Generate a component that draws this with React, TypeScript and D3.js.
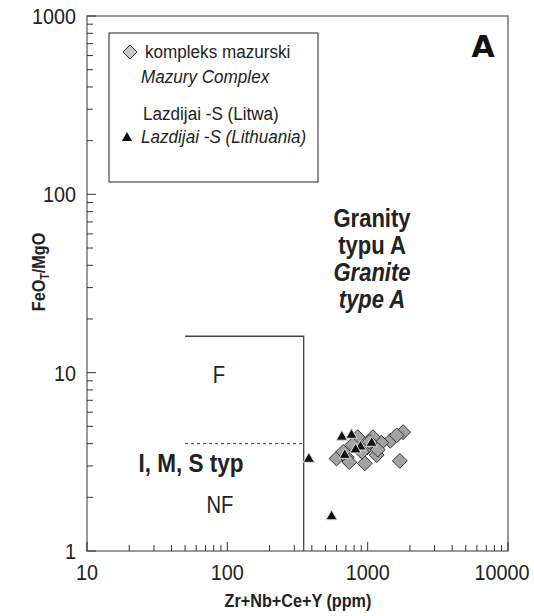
import React, { useEffect, useRef } from 'react';
import * as d3 from 'd3';

// Mazury Complex samples: [Zr+Nb+Ce+Y ppm, FeOt/MgO]
const mazuryX = [1790, 1694, 1450, 1250, 1160, 955, 600, 710, 740, 1090, 850, 780, 990, 910, 1030, 1610, 670, 1180];
const mazuryY = [4.64, 3.2, 4.15, 4.05, 3.45, 3.1, 3.3, 3.35, 3.15, 4.35, 4.35, 3.95, 3.8, 3.6, 4.1, 4.45, 3.6, 3.7];

// Lazdijai -S samples
const lazdijaiX = [381, 553, 655, 767, 889, 1067, 687, 820];
const lazdijaiY = [3.28, 1.56, 4.36, 4.47, 3.84, 4.03, 3.45, 3.7];

const xTicks = [10, 100, 1000, 10000];
const yTicks = [1, 10, 100, 1000];

const FONT = "'Liberation Sans', Arial, sans-serif";

type Sel = d3.Selection<SVGSVGElement, unknown, null, undefined>;

// condensed text: draw at (x,y) squeezed horizontally
function ctext(svg: Sel, x: number, y: number, t: string, size: number, opts: any = {}) {
    const sx = opts.sx ?? 0.9;
    return svg.append('text')
        .attr('transform', `translate(${x},${y}) scale(${sx},1)`)
        .attr('text-anchor', opts.anchor ?? 'start')
        .attr('font-size', size)
        .attr('font-weight', opts.bold ? 'bold' : 'normal')
        .attr('font-style', opts.italic ? 'italic' : 'normal')
        .attr('fill', '#222')
        .text(t);
}

const App = () => {
    const ref = useRef<SVGSVGElement | null>(null);
    const width = 534;
    const height = 616;

    useEffect(() => {
        if (!ref.current) return;
        const svg = d3.select(ref.current);
        svg.selectAll('*').remove();
        svg.style('font-family', FONT);

        const x = d3.scaleLog().domain([10, 10000]).range([87, 508]);
        const y = d3.scaleLog().domain([1, 1000]).range([551, 16]);

        // frame
        svg.append('rect')
            .attr('x', 87).attr('y', 16)
            .attr('width', 508 - 87).attr('height', 551 - 16)
            .attr('fill', 'none').attr('stroke', '#808080').attr('stroke-width', 1.6);

        // ticks, pointing inward
        const xMinor: number[] = [];
        for (let d = 10; d < 10000; d *= 10) for (let k = 1; k < 10; k++) xMinor.push(d * k);
        xMinor.push(10000);
        svg.append('g').selectAll('line').data(xMinor).join('line')
            .attr('x1', (d) => x(d)).attr('x2', (d) => x(d))
            .attr('y1', 551).attr('y2', (d) => (xTicks.includes(d) ? 542 : 545))
            .attr('stroke', '#333').attr('stroke-width', 1);

        const yMinor: number[] = [];
        for (let d = 1; d < 1000; d *= 10) for (let k = 1; k < 10; k++) yMinor.push(d * k);
        yMinor.push(1000);
        svg.append('g').selectAll('line').data(yMinor).join('line')
            .attr('y1', (d) => y(d)).attr('y2', (d) => y(d))
            .attr('x1', 87).attr('x2', (d) => (yTicks.includes(d) ? 96 : 93))
            .attr('stroke', '#333').attr('stroke-width', 1);

        // tick labels
        xTicks.forEach((d) => {
            const px = d === 10000 ? 502 : x(d);
            ctext(svg, px, 580, String(d), 22, { anchor: 'middle', sx: 0.9 });
        });
        yTicks.forEach((d) => {
            ctext(svg, 76, y(d) + 8, String(d), 22, { anchor: 'end', sx: 0.9 });
        });

        // axis titles
        ctext(svg, 298, 607, 'Zr+Nb+Ce+Y (ppm)', 18, { anchor: 'middle', bold: true, sx: 0.9 });
        const yt = svg.append('text')
            .attr('transform', 'translate(45,272) rotate(-90) scale(0.9,1)')
            .attr('text-anchor', 'middle').attr('font-size', 18).attr('font-weight', 'bold').attr('fill', '#222');
        yt.append('tspan').text('FeO');
        yt.append('tspan').attr('font-size', 12).attr('dy', 4).text('T');
        yt.append('tspan').attr('dy', -4).text('/MgO');

        // field boundaries
        const line = d3.line<[number, number]>().x((d) => x(d[0])).y((d) => y(d[1]));
        svg.append('path')
            .attr('d', line([[50, 16], [350, 16], [350, 1]]))
            .attr('fill', 'none').attr('stroke', '#444').attr('stroke-width', 1.3);
        svg.append('path')
            .attr('d', line([[50, 4], [350, 4]]))
            .attr('fill', 'none').attr('stroke', '#333').attr('stroke-width', 1)
            .attr('stroke-dasharray', '3,3');

        // field labels
        ctext(svg, 219, 383, 'F', 23, { anchor: 'middle', sx: 0.88 });
        ctext(svg, 220, 513, 'NF', 23, { anchor: 'middle', sx: 0.88 });
        ctext(svg, 191, 472, 'I, M, S typ', 25, { anchor: 'middle', bold: true, sx: 0.9 });
        const gl = [
            { t: 'Granity', it: false },
            { t: 'typu A', it: false },
            { t: 'Granite', it: true },
            { t: 'type A', it: true },
        ];
        gl.forEach((d, i) => {
            ctext(svg, 372, 227 + i * 27, d.t, 25, { anchor: 'middle', bold: true, italic: d.it, sx: 0.88 });
        });

        svg.append('text').attr('x', 483).attr('y', 57)
            .attr('text-anchor', 'middle').attr('font-size', 30).attr('font-weight', 900)
            .attr('font-family', "'DejaVu Sans', sans-serif").attr('fill', '#111').text('A');

        // points
        const diamond = d3.symbol().type(d3.symbolDiamond2).size(140);
        const tri = d3.symbol().type(d3.symbolTriangle).size(55);
        const mz = mazuryX.map((v, i) => [v, mazuryY[i]]);
        const lz = lazdijaiX.map((v, i) => [v, lazdijaiY[i]]);
        svg.append('g').selectAll('path').data(mz).join('path')
            .attr('d', diamond)
            .attr('transform', (d) => `translate(${x(d[0])},${y(d[1])})`)
            .attr('fill', '#a3a3a3').attr('stroke', '#333').attr('stroke-width', 1);
        svg.append('g').selectAll('path').data(lz).join('path')
            .attr('d', tri)
            .attr('transform', (d) => `translate(${x(d[0])},${y(d[1])})`)
            .attr('fill', '#111').attr('stroke', '#ddd').attr('stroke-width', 1);

        // legend
        svg.append('rect')
            .attr('x', 109).attr('y', 33).attr('width', 209).attr('height', 149)
            .attr('fill', 'white').attr('stroke', '#222').attr('stroke-width', 1);
        svg.append('path').attr('d', d3.symbol().type(d3.symbolDiamond2).size(125))
            .attr('transform', 'translate(130,52)')
            .attr('fill', '#c8c8c8').attr('stroke', '#333').attr('stroke-width', 1);
        svg.append('path').attr('d', d3.symbol().type(d3.symbolTriangle).size(45))
            .attr('transform', 'translate(127,138)')
            .attr('fill', '#111');
        const lg = [
            { t: 'kompleks mazurski', y: 58, x: 145, it: false },
            { t: 'Mazury Complex', y: 83, x: 141, it: true },
            { t: 'Lazdijai -S (Litwa)', y: 120, x: 143, it: false },
            { t: 'Lazdijai -S (Lithuania)', y: 143, x: 141, it: true },
        ];
        lg.forEach((d) => {
            ctext(svg, d.x, d.y, d.t, 19, { italic: d.it, sx: 0.9 });
        });
    }, []);

    return (
        <svg ref={ref} width={width} height={height}
            style={{ position: 'absolute', left: 0, top: 0, background: 'white' }}></svg>
    );
};

export default App;
